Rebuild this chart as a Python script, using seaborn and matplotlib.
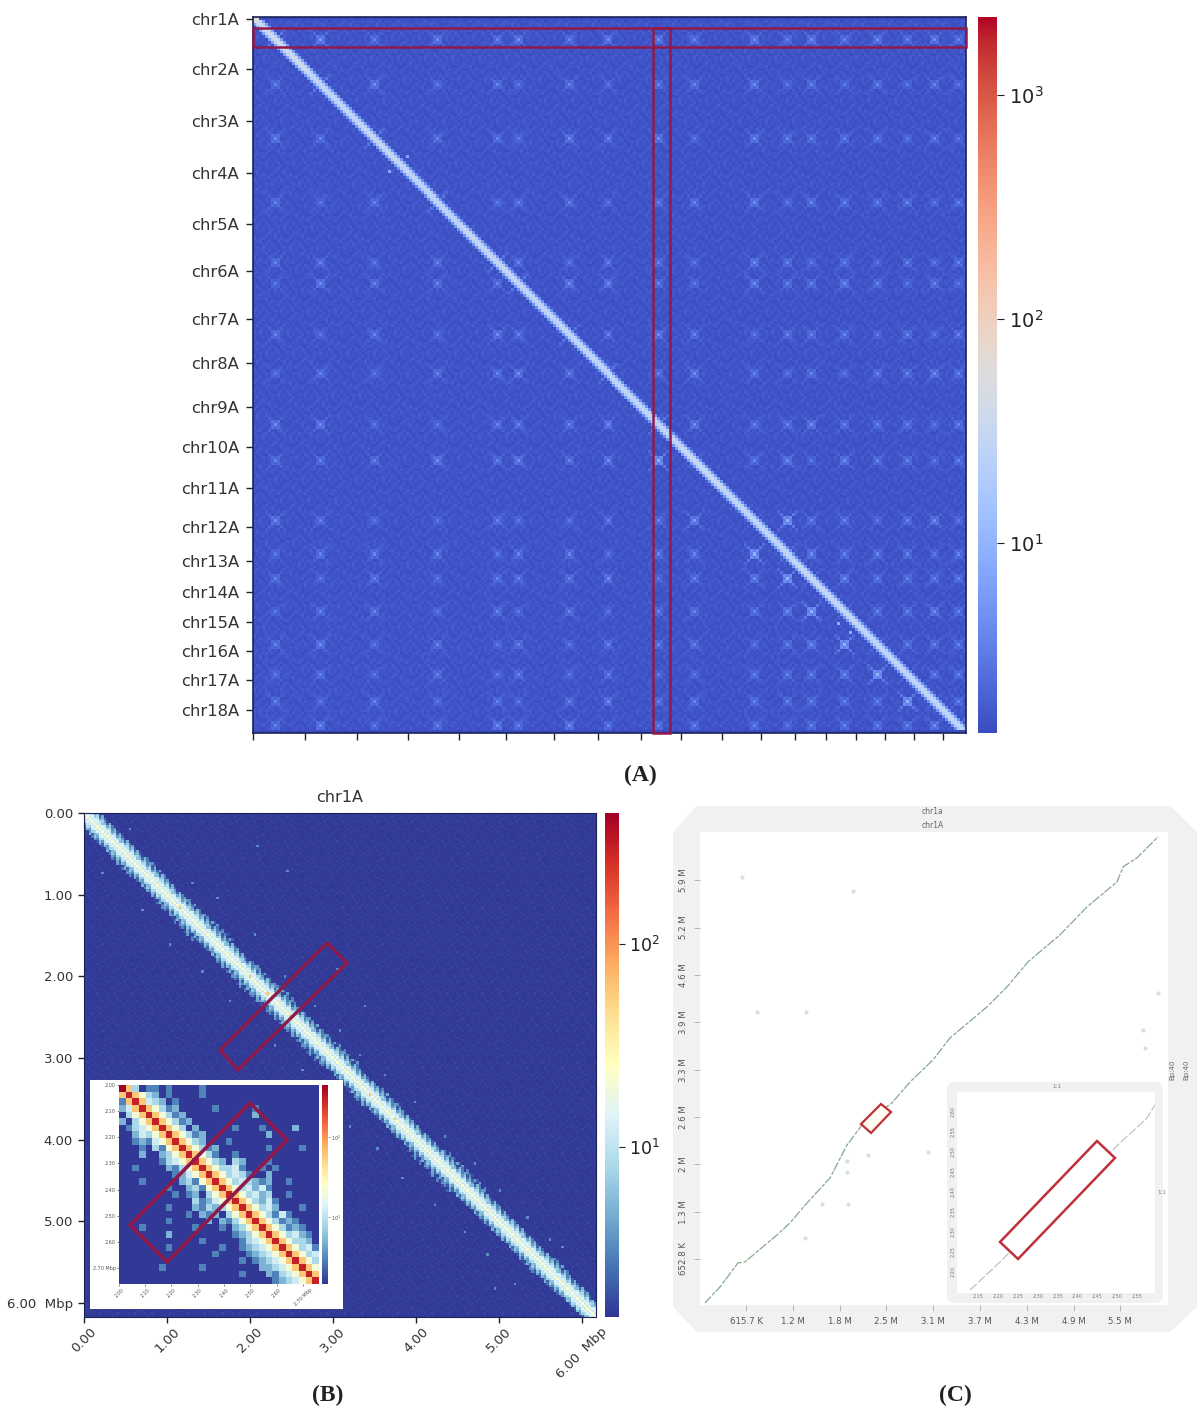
import numpy as np
import matplotlib
matplotlib.use('Agg')
import matplotlib.pyplot as plt
import seaborn as sns
from matplotlib.colors import LogNorm
from matplotlib.patches import Polygon, Rectangle, FancyBboxPatch

W, H = 1200, 1414

# ---- panel A: genome wide contact map ----
chr_labels = ['chr1A', 'chr2A', 'chr3A', 'chr4A', 'chr5A', 'chr6A', 'chr7A', 'chr8A', 'chr9A',
              'chr10A', 'chr11A', 'chr12A', 'chr13A', 'chr14A', 'chr15A', 'chr16A', 'chr17A', 'chr18A']
chr_starts = [0.6, 17.4, 34.7, 51.7, 68.7, 84.4, 100.4, 115, 129.5, 143, 156.5, 169.5,
              180.8, 191.2, 201.2, 210.8, 220.5, 230.2]
a_bins = 238
a_background = [[1.55, 1.7, 1.5, 1.62, 1.8, 1.52, 1.66, 1.58, 1.74],
                [1.72, 1.5, 1.64, 1.85, 1.55, 1.6, 1.78, 1.5, 1.6],
                [1.5, 1.6, 1.82, 1.56, 1.68, 1.9, 1.54, 1.64, 1.52],
                [1.64, 1.78, 1.52, 1.6, 1.5, 1.7, 1.6, 1.84, 1.56],
                [1.86, 1.54, 1.6, 1.72, 1.58, 1.5, 1.82, 1.58, 1.68],
                [1.54, 1.66, 1.76, 1.5, 1.84, 1.62, 1.56, 1.7, 1.5],
                [1.6, 1.9, 1.56, 1.66, 1.6, 1.76, 1.5, 1.62, 1.8]]
centromere_bins = [7, 22, 40, 61, 81, 88, 105, 118, 135, 147, 167, 178, 186, 197, 208, 218, 227, 235]
diag_levels = [40, 30, 32, 28, 32, 30, 30, 30, 30, 34, 30, 30, 32, 32, 30, 30, 30, 30]
diag_profile = [1.0, 0.7, 0.16]
contact_levels = [2.0, 2.5, 3.1, 3.8, 4.6, 6.0, 10.0]
contacts = ['653434344343434343', '364232323342323232', '436332434243333232', '323623323342333323',
            '332363233243232323', '243336443243343232', '323243634323332323', '232334363432323343',
            '442233346433433323', '333434346334243323', '432232233536332342', '233323323365433323',
            '323233342346443333', '233232323334643343', '342323233323464333', '232323232233346433',
            '323232343333333643', '342343433332333346']
cross_stamp = [[0.08, 0, 0, 0, 0, 0, 0.08],
               [0, 0.16, 0, 0, 0, 0.16, 0],
               [0, 0, 0.34, 0.22, 0.34, 0, 0],
               [0, 0, 0.22, 1.0, 0.22, 0, 0],
               [0, 0, 0.34, 0.22, 0.34, 0, 0],
               [0, 0.16, 0, 0, 0, 0.16, 0],
               [0.08, 0, 0, 0, 0, 0, 0.08]]
extra_rows = [46, 51, 201, 204, 1, 0]
extra_cols = [51, 45, 195, 199, 0, 1]
extra_vals = [7.5, 7.5, 9, 8, 90, 60]

# ---- panel B: chr1A contact map ----
b_bins = 205
b_length = 6.17
b_ticks = [0, 1, 2, 3, 4, 5, 6]
b_ticklabels = ['0.00', '1.00', '2.00', '3.00', '4.00', '5.00', '6.00  Mbp']
b_background = [[1.5, 1.56, 1.5, 1.62, 1.52, 1.5, 1.58],
                [1.6, 1.5, 1.54, 1.5, 1.68, 1.55, 1.5],
                [1.5, 1.64, 1.5, 1.56, 1.5, 1.52, 1.6],
                [1.55, 1.5, 1.6, 1.5, 1.54, 1.7, 1.5],
                [1.5, 1.58, 1.5, 1.66, 1.5, 1.56, 1.52]]
band_profile = [24, 12, 14, 8.5, 5.5, 3.8, 2.8, 2.2, 1.9]
band_jitter = [[1, 1, 1, 1.2, 0.7, 1.5, 0.7, 1.4, 1.0],
               [1, 1, 1, 0.8, 1.6, 0.6, 1.6, 0.7, 0.7],
               [1, 1, 1, 1.3, 0.7, 1.4, 0.8, 1.9, 1.1],
               [1, 1, 1, 1.0, 1.3, 1.0, 0.6, 0.8, 2.0],
               [1, 1, 1, 0.7, 1.0, 0.6, 1.8, 1.2, 0.8],
               [1, 1, 1, 1.4, 0.8, 1.7, 1.0, 0.7, 1.6],
               [1, 1, 1, 1.0, 1.5, 0.8, 1.4, 1.6, 0.8]]
band_reach = [6, 6, 7, 6, 7, 8, 6, 7, 8, 7, 7, 8, 6, 7, 6, 6, 8, 8, 6, 6, 6, 7, 6, 5]
speck_x = [0.55, 1.30, 1.62, 2.05, 2.42, 2.78, 3.10, 3.33, 3.62, 3.98, 4.35, 4.70, 5.02, 5.35, 5.60,
           0.22, 0.70, 1.05, 1.42, 1.75, 2.30, 2.62, 2.95, 3.22, 3.55, 3.85, 4.22, 4.58, 4.85, 5.20,
           3.05, 3.40, 2.45, 2.10, 5.75, 4.95]
speck_y = [0.20, 0.85, 1.05, 1.50, 2.00, 2.35, 2.65, 2.95, 3.20, 3.55, 3.95, 4.30, 4.62, 4.95, 5.22,
           0.75, 1.18, 1.62, 1.95, 2.30, 2.85, 3.15, 3.50, 3.85, 4.10, 4.48, 4.80, 5.12, 5.40, 5.75,
           1.92, 2.35, 0.70, 0.42, 5.30, 5.82]
b_hot_spots = [1.15, 2.0, 2.2, 2.48, 3.45, 3.75]

# ---- panel B inset ----
inset_levels = [1.5, 3, 5, 8, 12, 20, 60, 120, 300, 440]
inset_rows = ['96301 10100 00100 00000 00000 00000',
              '68653 20100 00100 00000 00000 00000',
              '16864 32010 00000 00000 00000 00000',
              '24686 53120 00001 00000 10000 00000',
              '03568 65312 00000 00000 20000 00000',
              '20356 86531 20000 00000 00000 00000',
              '01345 68653 02000 00100 01000 02000',
              '00243 56865 31200 00000 00200 00000',
              '00121 45686 53200 01000 00000 00000',
              '00010 31568 65312 00000 00100 00100',
              '00020 02356 86531 00100 00000 00000',
              '00000 01345 68653 20320 00100 00000',
              '00100 00213 56865 33410 01010 00000',
              '00000 00012 45686 53431 00200 00000',
              '00010 00002 31568 65343 21200 10000',
              '00000 00100 23156 86534 24100 00000',
              '00000 00010 12035 68653 42300 10000',
              '00000 00000 03124 56865 32410 00000',
              '00000 00100 02132 35686 53420 00100',
              '00000 00000 10212 03568 65314 10000',
              '00000 00100 00020 21356 86531 21000',
              '00010 00000 01000 10235 68653 12100',
              '00000 00200 00000 00123 56865 34210',
              '00000 00000 00100 00013 45686 53320',
              '00000 00100 00000 10012 34568 65341',
              '00000 00000 00001 00001 23456 86534',
              '00000 00000 00000 00010 12345 68653',
              '00000 01000 00100 00000 02234 56865',
              '00000 00000 00000 00010 00213 45686',
              '00000 00000 00000 00000 00012 34568']
inset_ticklabels = ['2.00', '2.10', '2.20', '2.30', '2.40', '2.50', '2.60', '2.70 Mbp']

# ---- panel C: dot plot ----
dot_x = [0.076, 0.273, 0.510, 0.602, 1.023, 1.194, 1.418, 1.721, 1.945, 2.142, 2.537, 2.774, 3.076,
         3.300, 3.787, 4.050, 4.326, 4.747, 5.103, 5.498, 5.577, 5.760, 6.037]
dot_y = [0.046, 0.267, 0.598, 0.612, 0.984, 1.150, 1.425, 1.770, 2.225, 2.501, 2.805, 3.094, 3.398,
         3.701, 4.129, 4.405, 4.750, 5.122, 5.508, 5.853, 6.060, 6.184, 6.474]
stray_x = [0.563, 0.760, 1.405, 2.024, 5.839, 5.865, 6.037, 1.392, 1.616, 1.958, 2.221, 3.010, 1.945, 1.945]
stray_y = [5.922, 4.060, 4.060, 5.722, 3.811, 3.563, 4.320, 0.942, 1.411, 1.411, 2.087, 2.129, 2.000, 1.850]
c_xticks = [0.6157, 1.2314, 1.8471, 2.4628, 3.0785, 3.6942, 4.3099, 4.9256, 5.5413]
c_xlabels = ['615.7 K', '1.2 M', '1.8 M', '2.5 M', '3.1 M', '3.7 M', '4.3 M', '4.9 M', '5.5 M']
c_yticks = [0.6528, 1.3056, 1.9584, 2.6112, 3.264, 3.9168, 4.5696, 5.2224, 5.8752]
c_ylabels = ['652.8 K', '1.3 M', '2 M', '2.6 M', '3.3 M', '3.9 M', '4.6 M', '5.2 M', '5.9 M']
zoom_x = [2.13, 2.205, 2.502, 2.575, 2.595]
zoom_y = [2.155, 2.225, 2.518, 2.585, 2.618]
zoom_xticks = [2.15, 2.2, 2.25, 2.3, 2.35, 2.4, 2.45, 2.5, 2.55]
zoom_yticks = [2.2, 2.25, 2.3, 2.35, 2.4, 2.45, 2.5, 2.55, 2.6]

red = '#8f1a4a'
dark = '#1b2258'
sns.set_style('white')
plt.rcParams['font.family'] = ['DejaVu Sans']

fig = plt.figure(figsize=(W / 100, H / 100), dpi=100, facecolor='white')


def px_axes(x0, y0, x1, y1, **kw):
    # axes from pixel box, y counted from the top
    return fig.add_axes([x0 / W, 1 - y1 / H, (x1 - x0) / W, (y1 - y0) / H], **kw)


def stamp_cross(m, r, c, val, base):
    for dy, row in enumerate(cross_stamp):
        for dx, s in enumerate(row):
            rr, cc = r + dy - 3, c + dx - 3
            if s and 0 <= rr < m.shape[0] and 0 <= cc < m.shape[1]:
                m[rr, cc] = max(m[rr, cc], base + (val - base) * s)


# build matrix for A
mat_a = np.array([np.roll(np.array(a_background)[i % 7], i // 7 * 2)[np.arange(a_bins) % 9] for i in range(a_bins)])
for i, r in enumerate(centromere_bins):
    for j, c in enumerate(centromere_bins):
        stamp_cross(mat_a, r, c, contact_levels[int(contacts[i][j])], 1.7)
for i in range(a_bins):
    chrom = np.searchsorted(chr_starts, i, side='right') - 1
    lev = diag_levels[max(chrom, 0)]
    for off, f in enumerate(diag_profile):
        for j in {i - off, i + off}:
            if 0 <= j < a_bins:
                mat_a[i, j] = max(mat_a[i, j], lev * f)
for r, c, v in zip(extra_rows, extra_cols, extra_vals):
    mat_a[r, c] = v
mat_a[0, 2:] = 1.45
mat_a[-1] = 1.42

ax_a = px_axes(253, 17, 966, 733)
cax_a = px_axes(978, 17, 997, 733)
sns.heatmap(mat_a, ax=ax_a, cbar_ax=cax_a, cmap='coolwarm', norm=LogNorm(vmin=1.42, vmax=2230),
            xticklabels=False, yticklabels=False)
ax_a.set_xticks([0] + chr_starts[1:])
ax_a.set_yticks(chr_starts)
ax_a.set_xticklabels([])
ax_a.set_yticklabels(chr_labels, rotation=0, fontsize=11.8, color='#333333')
ax_a.tick_params(axis='both', length=5, width=1, color='#222222', pad=5, left=True, bottom=True)
for s in ax_a.spines.values():
    s.set_visible(True)
    s.set_color(dark)
    s.set_linewidth(1.2)
cax_a.tick_params(axis='y', which='major', labelsize=14, length=5, colors='#222222')
cax_a.tick_params(axis='y', which='minor', length=0)

# build matrix for B
mat_b = np.array([np.roll(np.array(b_background)[i % 5], i // 5 * 3)[np.arange(b_bins) % 7] for i in range(b_bins)])
for i in range(b_bins):
    reach = band_reach[i * len(band_reach) // b_bins]
    for off in range(reach + 1):
        v = band_profile[off]
        if i + off < b_bins:
            mat_b[i, i + off] = max(mat_b[i, i + off], v * band_jitter[i % 7][off])
        if i - off >= 0:
            mat_b[i, i - off] = max(mat_b[i, i - off], v * band_jitter[(i + 3) % 7][off])
bin_size = b_length / b_bins
for sx, sy in zip(speck_x, speck_y):
    mat_b[int(sy / bin_size), int(sx / bin_size)] = 3.4
for hot in b_hot_spots:
    k = int(hot / bin_size)
    stamp_cross(mat_b, k, k, 10, 3)
    mat_b[k, k] = 60

ax_b = px_axes(84, 813, 596, 1317)
cax_b = px_axes(605, 813, 619, 1317)
sns.heatmap(mat_b, ax=ax_b, cbar_ax=cax_b, cmap='RdYlBu_r', norm=LogNorm(vmin=1.46, vmax=442),
            xticklabels=False, yticklabels=False)
ticks_b = [t / bin_size for t in b_ticks]
ax_b.set_xticks(ticks_b)
ax_b.set_yticks(ticks_b)
ax_b.set_xticklabels(b_ticklabels, rotation=45, ha='center', fontsize=9.5, color='#333333')
ax_b.set_yticklabels(b_ticklabels, rotation=0, fontsize=9.5, color='#333333')
ax_b.tick_params(axis='y', length=4, width=1, color='#222222', pad=4, left=True)
ax_b.tick_params(axis='x', length=4, width=1, color='#222222', pad=2, bottom=True)
ax_b.set_title('chr1A', fontsize=11.5, color='#333333', pad=8)
for s in ax_b.spines.values():
    s.set_visible(True)
    s.set_color(dark)
cax_b.tick_params(axis='y', which='major', labelsize=12.5, length=4, colors='#222222')
cax_b.tick_params(axis='y', which='minor', length=0)

# inset of B
ax_white = px_axes(90, 1080, 343, 1309)
ax_white.set_facecolor('white')
ax_white.set_xticks([])
ax_white.set_yticks([])
for s in ax_white.spines.values():
    s.set_visible(False)
mat_i = np.array([[inset_levels[int(ch)] for ch in row.replace(' ', '')] for row in inset_rows], dtype=float)
ax_i = px_axes(119, 1085, 319, 1284)
cax_i = px_axes(322, 1085, 328, 1284)
sns.heatmap(mat_i, ax=ax_i, cbar_ax=cax_i, cmap='RdYlBu_r', norm=LogNorm(vmin=1.46, vmax=442),
            xticklabels=False, yticklabels=False)
inset_pos = [0, 3.9, 7.85, 11.8, 15.8, 19.7, 23.65, 27.65]
ax_i.set_xticks(inset_pos)
ax_i.set_yticks(inset_pos)
ax_i.set_xticklabels(inset_ticklabels, rotation=45, fontsize=3.5, color='#555555')
ax_i.set_yticklabels(inset_ticklabels, rotation=0, fontsize=3.5, color='#555555')
ax_i.tick_params(axis='both', length=1.2, width=0.4, pad=1, left=True, bottom=True)
cax_i.tick_params(axis='y', which='major', labelsize=3.5, length=1.2, width=0.4, pad=1, colors='#555555')
cax_i.tick_params(axis='y', which='minor', length=0)

# grey frame of C sits under everything
under = px_axes(0, 0, W, H, zorder=-1)
under.set_xlim(0, W)
under.set_ylim(H, 0)
under.axis('off')
under.add_patch(Polygon([(673, 832), (697, 806), (1170, 806), (1197, 832), (1197, 1307), (1170, 1332),
                         (697, 1332), (673, 1307)], closed=True, fc='#f1f1f1', ec='none'))

# panel C
ax_c = px_axes(700, 832, 1168, 1305)
ax_c.set_xlim(0.010, 6.168)
ax_c.set_ylim(0.018, 6.54)
sns.lineplot(x=dot_x, y=dot_y, ax=ax_c, sort=False, estimator=None, color='#86a98c', linewidth=0.9,
             linestyle=(0, (7, 1.5, 3, 1)))
sns.scatterplot(x=stray_x, y=stray_y, ax=ax_c, color='#cfdad0', s=9, linewidth=0, alpha=0.8)
ax_c.set_xticks(c_xticks)
ax_c.set_yticks(c_yticks)
ax_c.set_xticklabels(c_xlabels, fontsize=6.2, color='#555555')
ax_c.set_yticklabels(c_ylabels, rotation=90, va='center', fontsize=6.2, color='#555555')
ax_c.tick_params(axis='both', length=4, width=0.6, color='#aaaaaa', pad=5, left=True, bottom=True)
for s in ax_c.spines.values():
    s.set_visible(False)

over = px_axes(0, 0, W, H, zorder=10)
over.set_xlim(0, W)
over.set_ylim(H, 0)
over.axis('off')
over.patch.set_alpha(0)
over.add_patch(FancyBboxPatch((952, 1087), 206, 211, boxstyle='round,pad=5,rounding_size=8', fc='#f1f1f1', ec='none'))

# panel C zoom
ax_z = px_axes(957, 1092, 1155, 1293, zorder=11)
ax_z.set_xlim(2.097, 2.595)
ax_z.set_ylim(2.1475, 2.65)
sns.lineplot(x=zoom_x, y=zoom_y, ax=ax_z, sort=False, estimator=None, color='#b5bdb5', linewidth=0.8,
             linestyle=(0, (8, 2)))
ax_z.set_xticks(zoom_xticks)
ax_z.set_yticks(zoom_yticks)
ax_z.set_xticklabels([f'{t:.2f}' for t in zoom_xticks], fontsize=3.5, color='#777777')
ax_z.set_yticklabels([f'{t:.2f}' for t in zoom_yticks], rotation=90, va='center', fontsize=3.5, color='#777777')
ax_z.tick_params(axis='both', length=0, pad=1)
for s in ax_z.spines.values():
    s.set_visible(False)

over2 = px_axes(0, 0, W, H, zorder=12)
over2.set_xlim(0, W)
over2.set_ylim(H, 0)
over2.axis('off')
over2.patch.set_alpha(0)

# red boxes
over2.add_patch(Rectangle((253, 28), 713, 19, fc='none', ec=red, lw=1.8))
over2.add_patch(Rectangle((653, 28), 17, 705, fc='none', ec=red, lw=1.8))
over2.add_patch(Polygon([(327, 943), (347, 963), (238, 1070), (220, 1050)], closed=True, fc='none', ec=red, lw=2.4))
over2.add_patch(Polygon([(250, 1103), (287, 1140), (167, 1262), (130, 1225)], closed=True, fc='none', ec=red, lw=2.6))
over2.add_patch(Polygon([(881, 1104), (891, 1112), (871, 1133), (861, 1124)], closed=True, fc='#fffdf2', ec='#c0303a', lw=1.6))
over2.add_patch(Polygon([(1097, 1141), (1115, 1158), (1018, 1259), (1000, 1242)], closed=True, fc='white', ec='#c0303a', lw=1.8))

# small text of C
over2.text(933, 812, 'chr1a', fontsize=5.5, color='#666666', ha='center', va='center')
over2.text(933, 825, 'chr1A', fontsize=5.5, color='#666666', ha='center', va='center')
over2.text(1172, 1070, 'Bp:40', fontsize=5, color='#666666', rotation=90, ha='center', va='center')
over2.text(1186, 1070, 'Bp:40', fontsize=5, color='#666666', rotation=90, ha='center', va='center')
over2.text(1057, 1087, '1:1', fontsize=4, color='#777777', ha='center', va='center')
over2.text(1162, 1193, '1:1', fontsize=4, color='#777777', ha='center', va='center')

# panel letters
for label, x, y in [('(A)', 640, 775), ('(B)', 328, 1395), ('(C)', 955, 1395)]:
    over2.text(x, y, label, fontsize=17, fontweight='bold', family='Liberation Serif', color='#222222',
               ha='center', va='center')

fig.savefig('out.png', dpi=100)
